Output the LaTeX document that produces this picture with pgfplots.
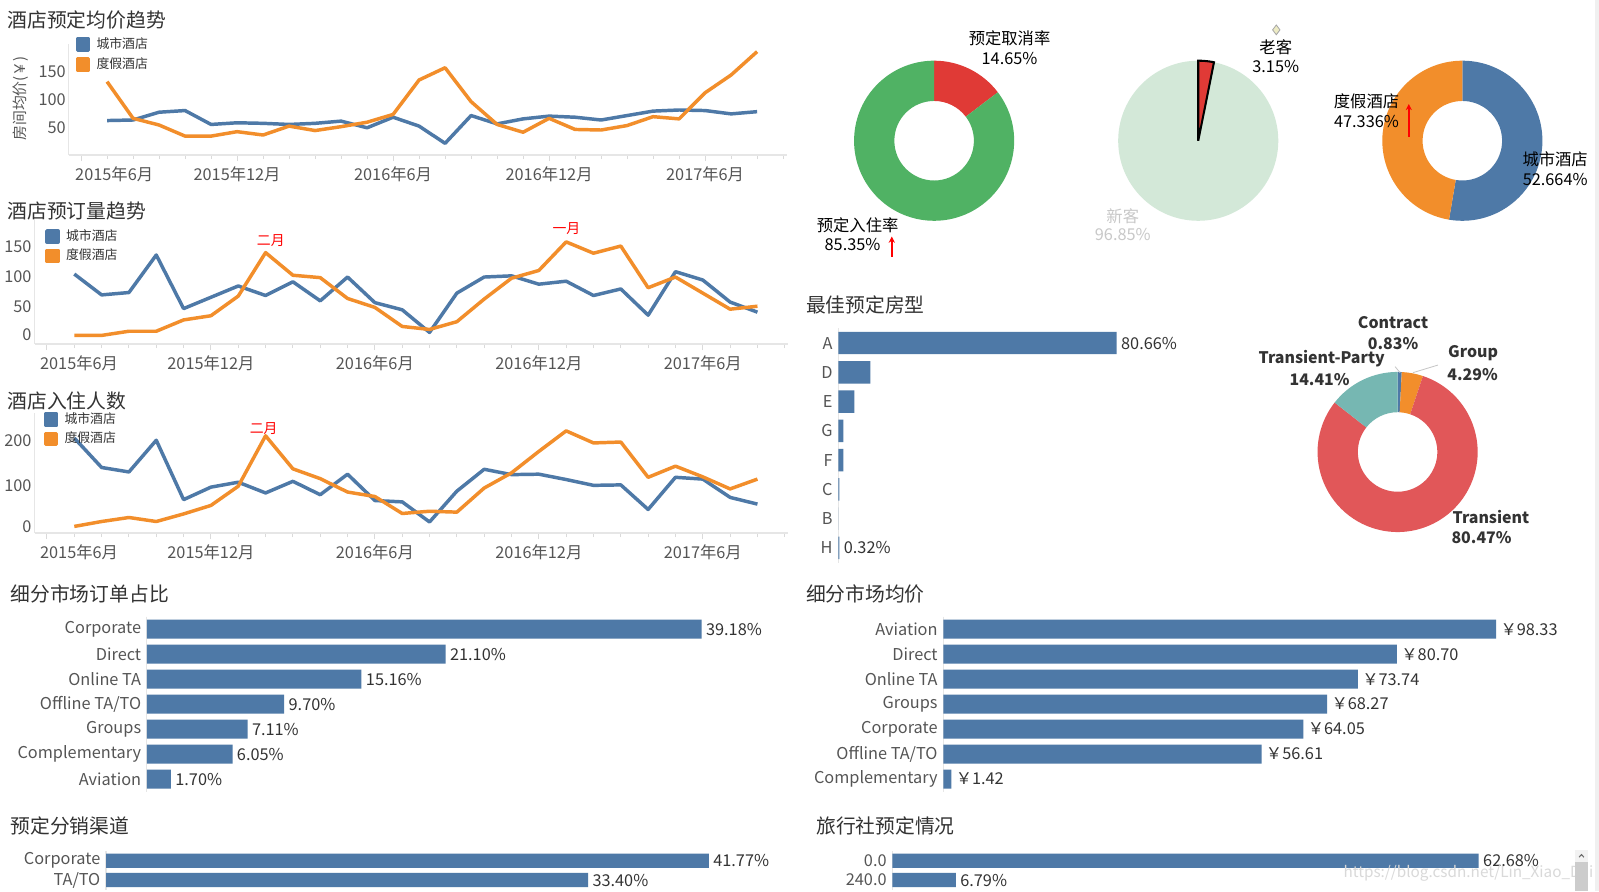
\documentclass[border=0pt]{standalone}
\usepackage{fontspec}
\setmainfont{Noto Sans CJK SC}
\usepackage{pgfplots}
\usepackage{pgfplotstable}
\pgfplotsset{compat=1.18}
\usetikzlibrary{arrows.meta}

\definecolor{cityblue}{HTML}{4E79A7}
\definecolor{resortorange}{HTML}{F28E2B}
\definecolor{tred}{HTML}{E15759}
\definecolor{tteal}{HTML}{76B7B2}
\definecolor{donutgreen}{HTML}{50B264}
\definecolor{donutred}{HTML}{E03A36}
\definecolor{palegreen}{HTML}{D3E8D8}
\definecolor{titlegrey}{HTML}{333333}
\definecolor{labelgrey}{HTML}{555555}
\definecolor{axisline}{HTML}{E6E6E6}
\definecolor{tickline}{HTML}{DADADA}
\definecolor{fadegrey}{HTML}{C8C8C8}
\definecolor{diamondfill}{HTML}{EDEBC4}

\newcommand\fs[1]{\fontsize{#1}{#1}\selectfont}
\newcommand\paneltitle[3]{\node[anchor=west, inner sep=0pt, font=\fs{9.7}, text=titlegrey] at (#1,#2) {#3};}
% ring segment of a donut between two cumulative percentages, clockwise from 12 o'clock
\newcommand\ring[3]{%
  \fill[#1] (axis cs:{cos(90-3.6*#2)},{sin(90-3.6*#2)})
    arc[start angle={90-3.6*#2}, end angle={90-3.6*#3}, radius=39.25pt]
    -- (axis cs:{0.4968*cos(90-3.6*#3)},{0.4968*sin(90-3.6*#3)})
    arc[start angle={90-3.6*#3}, end angle={90-3.6*#2}, radius=19.5pt] -- cycle;}

\pgfkeys{/pgf/number format/assume math mode=true}

% monthly series, m = months after 2015-06
\pgfplotstableread{
m city resort
1 62 132
2 63 66
3 77 54
4 80 34
5 55 34
6 58 42
7 57 36
8 55 52
9 57 44
10 61 51
11 49 59
12 68 73
13 52 135
14 21 157
15 71 96
16 56 55
17 65 41
18 70 66
19 68 46
20 63 45
21 71 53
22 79 69
23 81 65
24 80 112
25 74 144
26 78 186
}\pricedata

\pgfplotstableread{
m city resort
1 104 1
2 69 1
3 73 8
4 136 8
5 46 27
6 65 34
7 84 67
8 68 140
9 91 102
10 59 98
11 99 63
12 56 48
13 44 16
14 6 11
15 72 24
16 99 62
17 101 97
18 87 110
19 92 158
20 68 139
21 79 151
22 35 81
23 108 99
24 94 72
25 57 45
26 40 50
}\bookingdata

\pgfplotstableread{
m city resort
1 206 8
2 140 19
3 130 28
4 201 19
5 68 36
6 96 55
7 107 98
8 83 211
9 109 137
10 79 115
11 125 85
12 66 75
13 63 37
14 18 42
15 87 40
16 136 94
17 124 128
18 125 176
19 113 222
20 100 195
21 101 197
22 46 118
23 118 143
24 114 119
25 73 92
26 58 114
}\guestdata

\pgfplotsset{
  trend/.style={
    scale only axis, anchor=south west, clip=false,
    axis x line*=bottom, axis y line*=left,
    x axis line style={draw=axisline, line width=0.6pt},
    y axis line style={draw=axisline, line width=0.5pt},
    ytick style={draw=none},
    xtick={0,6,12,18,24},
    minor xtick={0,...,27},
    tick align=outside,
    major tick length=3pt, minor tick length=2pt,
    xtick style={draw=tickline, line width=0.5pt},
    tick label style={font=\fs{8}, text=labelgrey},
    yticklabel style={xshift=5pt},
    xticklabel style={yshift=1pt},
    legend image code/.code={\fill[##1] (0pt,-2.75pt) rectangle (5.5pt,2.75pt); \path (7.5pt,0pt);},
    legend style={draw=none, fill=none, inner sep=0pt, row sep=0.7pt,
      nodes={inner sep=1pt},
      font=\fs{6.3}, text=titlegrey, anchor=north west},
    legend cell align=left,
    every axis plot/.append style={line width=1.7pt, line join=round},
  },
  hbar/.style={
    xbar, scale only axis, anchor=south west, clip=false,
    xmin=0, ymin=-0.5, y dir=reverse,
    hide x axis, axis y line*=left,
    y axis line style={draw=axisline, line width=0.6pt},
    ytick style={draw=none},
    yticklabel style={font=\fs{8}, text=labelgrey, xshift=5pt},
  },
  bars/.style={fill=cityblue, draw=none},
  pctlabels/.style={
    point meta=x,
    nodes near coords={\pgfmathprintnumber[fixed,fixed zerofill,precision=2]{\pgfplotspointmeta}\%},
    nodes near coords align=horizontal,
    every node near coord/.append style={font=\fs{8}, text=titlegrey, inner sep=2pt},
  },
  yenlabels/.style={
    point meta=x,
    nodes near coords={￥\pgfmathprintnumber[fixed,fixed zerofill,precision=2]{\pgfplotspointmeta}},
    nodes near coords align=horizontal,
    every node near coord/.append style={font=\fs{8}, text=titlegrey, inner sep=2pt},
  },
  pie/.style={hide axis, anchor=center, x=39.25pt, y=39.25pt,
    xmin=-1, xmax=1, ymin=-1, ymax=1, clip=false},
}

\begin{document}
\begin{tikzpicture}
\path[use as bounding box, fill=white] (0,0) rectangle (784pt,-437pt);
\fill[black!6] (782pt,0pt) rectangle (784pt,-437pt);

% ---------------- average price trend ----------------
\paneltitle{3.5pt}{-10pt}{酒店预定均价趋势}
\node[rotate=90, font=\fs{7.3}, text=labelgrey] at (10pt,-48.25pt) {房间均价(￥)};
\begin{axis}[trend, at={(33.75pt,-76pt)}, width=352.25pt, height=54.5pt,
  xmin=-0.47, xmax=27.16, ymin=0, ymax=200, ytick={50,100,150},
  xticklabels={\hspace*{32.5pt}2015年6月, 2015年12月, 2016年6月, 2016年12月, 2017年6月},
  legend style={at={(0.009,1.076)}}]
\addplot[cityblue] table[x=m, y=city] {\pricedata};
\addplot[resortorange] table[x=m, y=resort] {\pricedata};
\legend{城市酒店, 度假酒店}
\end{axis}

% ---------------- bookings trend ----------------
\paneltitle{3.5pt}{-103.5pt}{酒店预订量趋势}
\begin{axis}[trend, at={(17pt,-168.65pt)}, width=369.25pt, height=61.15pt,
  xmin=-0.45, xmax=27.11, ymin=-13.4, ymax=196, ytick={0,50,100,150},
  yticklabels={\raisebox{1.6pt}{0}, \raisebox{-2pt}{50}, 100, 150},
  xticklabels={\hspace*{31.5pt}2015年6月, 2015年12月, 2016年6月, 2016年12月, 2017年6月},
  legend style={at={(0.0135,0.937)}}]
\addplot[cityblue] table[x=m, y=city] {\bookingdata};
\addplot[resortorange] table[x=m, y=resort] {\bookingdata};
\legend{城市酒店, 度假酒店}
\node[font=\fs{6.8}, text=red] at (axis cs:8.19,160) {二月};
\node[font=\fs{6.8}, text=red] at (axis cs:19.01,180.6) {一月};
\end{axis}

% ---------------- guests trend ----------------
\paneltitle{3.5pt}{-196.5pt}{酒店入住人数}
\begin{axis}[trend, at={(17pt,-261.3pt)}, width=369.25pt, height=58.8pt,
  xmin=-0.45, xmax=27.11, ymin=-6.6, ymax=262, ytick={0,100,200},
  yticklabels={\raisebox{3.5pt}{0}, 100, 200},
  xticklabels={\hspace*{31.5pt}2015年6月, 2015年12月, 2016年6月, 2016年12月, 2017年6月},
  legend style={at={(0.0115,1.024)}}]
\addplot[cityblue] table[x=m, y=city] {\guestdata};
\addplot[resortorange] table[x=m, y=resort] {\guestdata};
\legend{城市酒店, 度假酒店}
\node[font=\fs{6.8}, text=red] at (axis cs:7.93,228) {二月};
\end{axis}

% ---------------- cancellation donut ----------------
\begin{axis}[pie, at={(458pt,-69pt)}]
\ring{donutred}{0}{14.65}
\ring{donutgreen}{14.65}{100}
\end{axis}
\node[font=\fs{8}, text=black] at (495pt,-19pt) {预定取消率};
\node[font=\fs{8}, text=black] at (495pt,-28.5pt) {14.65\%};
\node[font=\fs{8}, text=black] at (420.5pt,-110.5pt) {预定入住率};
\node[font=\fs{8}, text=black] at (418pt,-120pt) {85.35\%};
\draw[red, line width=1pt, -{Stealth[length=3pt, width=3pt]}] (437.25pt,-126pt) -- (437.25pt,-116pt);

% ---------------- new / returning guests ----------------
\begin{axis}[pie, at={(587.5pt,-69pt)}]
\fill[palegreen] (axis cs:0,0) circle[radius=39.25pt];
\filldraw[fill=donutred, draw=black, line width=1pt, line join=miter]
  (axis cs:0,0) -- (axis cs:0,1) arc[start angle=90, end angle={90-3.6*3.15}, radius=39.25pt] -- cycle;
\addplot[only marks, mark=diamond*, mark size=2.4pt, mark options={fill=diamondfill, draw=gray!70, line width=0.4pt}] coordinates {(0.975,1.385)};
\end{axis}
\node[font=\fs{8}, text=black] at (625.5pt,-23pt) {老客};
\node[font=\fs{8}, text=black] at (625.5pt,-32.5pt) {3.15\%};
\node[font=\fs{8}, text=fadegrey] at (550.5pt,-106pt) {新客};
\node[font=\fs{8}, text=fadegrey] at (550.5pt,-115pt) {96.85\%};

% ---------------- hotel type share ----------------
\begin{axis}[pie, at={(717pt,-69pt)}]
\ring{cityblue}{0}{52.664}
\ring{resortorange}{52.664}{100}
\end{axis}
\node[font=\fs{8}, text=black] at (670pt,-49.5pt) {度假酒店};
\node[font=\fs{8}, text=black] at (670pt,-59.5pt) {47.336\%};
\node[font=\fs{8}, text=black] at (762.5pt,-78pt) {城市酒店};
\node[font=\fs{8}, text=black] at (762.5pt,-88pt) {52.664\%};
\draw[red, line width=1pt, -{Stealth[length=3pt, width=3pt]}] (690.75pt,-67pt) -- (690.75pt,-51pt);

% ---------------- room type ----------------
\paneltitle{395pt}{-149.5pt}{最佳预定房型}
\begin{axis}[hbar, at={(411pt,-275.8pt)}, width=169.25pt, height=114.8pt,
  xmax=100, ymax=7.5, bar width=11pt, ytick={0,...,7},
  yticklabels={A,D,E,G,F,C,B,H}]
\addplot[bars] coordinates {(80.66,0) (9.28,1) (4.64,2) (1.5,3) (1.45,4) (0.3,5) (0.02,6) (0.32,7)};
\node[anchor=west, inner sep=2pt, font=\fs{8}, text=titlegrey] at (axis cs:80.66,0) {80.66\%};
\node[anchor=west, inner sep=2pt, font=\fs{8}, text=titlegrey] at (axis cs:0.32,7) {0.32\%};
\end{axis}

% ---------------- customer type donut ----------------
\begin{axis}[pie, at={(685.25pt,-221.6pt)}]
\ring{cityblue}{0}{0.83}
\ring{resortorange}{0.83}{5.12}
\ring{tred}{5.12}{85.59}
\ring{tteal}{85.59}{100}
\end{axis}
\draw[gray!45, line width=0.4pt] (684pt,-179.75pt) -- (686.5pt,-182.75pt);
\draw[gray!45, line width=0.4pt] (705pt,-179pt) -- (692.8pt,-182.7pt);
\begin{scope}[every node/.style={font=\bfseries\fs{7.8}, text=titlegrey, inner sep=0pt}]
\node at (683pt,-158pt) {Contract};
\node at (683pt,-168.25pt) {0.83\%};
\node at (648pt,-175.7pt) {Transient-Party};
\node at (647pt,-186pt) {14.41\%};
\node at (722.25pt,-172.9pt) {Group};
\node at (722pt,-183.5pt) {4.29\%};
\node[anchor=west] at (712pt,-253.35pt) {Transient};
\node[anchor=west] at (711.5pt,-263.5pt) {80.47\%};
\end{scope}

% ---------------- market segment share ----------------
\paneltitle{5pt}{-291pt}{细分市场订单占比}
\begin{axis}[hbar, pctlabels, at={(72pt,-388.125pt)}, width=312.4pt, height=85.75pt,
  xmax=45, ymax=6.5, bar width=9.3pt, ytick={0,...,6},
  yticklabels={Corporate,Direct,Online TA,Offline TA/TO,Groups,Complementary,Aviation}]
\addplot[bars] coordinates {(39.18,0) (21.10,1) (15.16,2) (9.70,3) (7.11,4) (6.05,5) (1.70,6)};
\end{axis}

% ---------------- market segment price ----------------
\paneltitle{395pt}{-291pt}{细分市场均价}
\begin{axis}[hbar, yenlabels, at={(462.5pt,-388.125pt)}, width=303.16pt, height=85.75pt,
  xmax=110, ymax=6.5, bar width=9.3pt, ytick={0,...,6},
  yticklabels={Aviation,Direct,Online TA,Groups,Corporate,Offline TA/TO,Complementary}]
\addplot[bars] coordinates {(98.33,0) (80.70,1) (73.74,2) (68.27,3) (64.05,4) (56.61,5) (1.42,6)};
\end{axis}

% ---------------- distribution channel ----------------
\paneltitle{5pt}{-405pt}{预定分销渠道}
\begin{axis}[hbar, pctlabels, at={(52pt,-436.25pt)}, width=318.4pt, height=19pt,
  xmax=45, ymax=1.5, bar width=7pt, ytick={0,1},
  yticklabels={Corporate,TA/TO}]
\addplot[bars] coordinates {(41.77,0) (33.40,1)};
\end{axis}

% ---------------- travel agent ----------------
\paneltitle{400pt}{-405pt}{旅行社预定情况}
\begin{axis}[hbar, pctlabels, at={(437.5pt,-436.25pt)}, width=321.1pt, height=19pt,
  xmax=70, ymax=1.5, bar width=7pt, ytick={0,1},
  yticklabels={0.0,240.0}]
\addplot[bars] coordinates {(62.68,0) (6.79,1)};
\end{axis}

\node[font=\fs{7.5}, text=gray!30] at (720pt,-428pt) {https://blog.csdn.net/Lin\_Xiao\_Dai};
% scroll bar in the corner
\fill[black!5] (772.25pt,-416.75pt) rectangle (778.6pt,-422.5pt);
\fill[black!20] (772.25pt,-422.5pt) rectangle (778.6pt,-437pt);
\draw[black!60, line width=0.5pt] (774.2pt,-420.3pt) -- (775.4pt,-419pt) -- (776.6pt,-420.3pt);
\end{tikzpicture}
\end{document}
